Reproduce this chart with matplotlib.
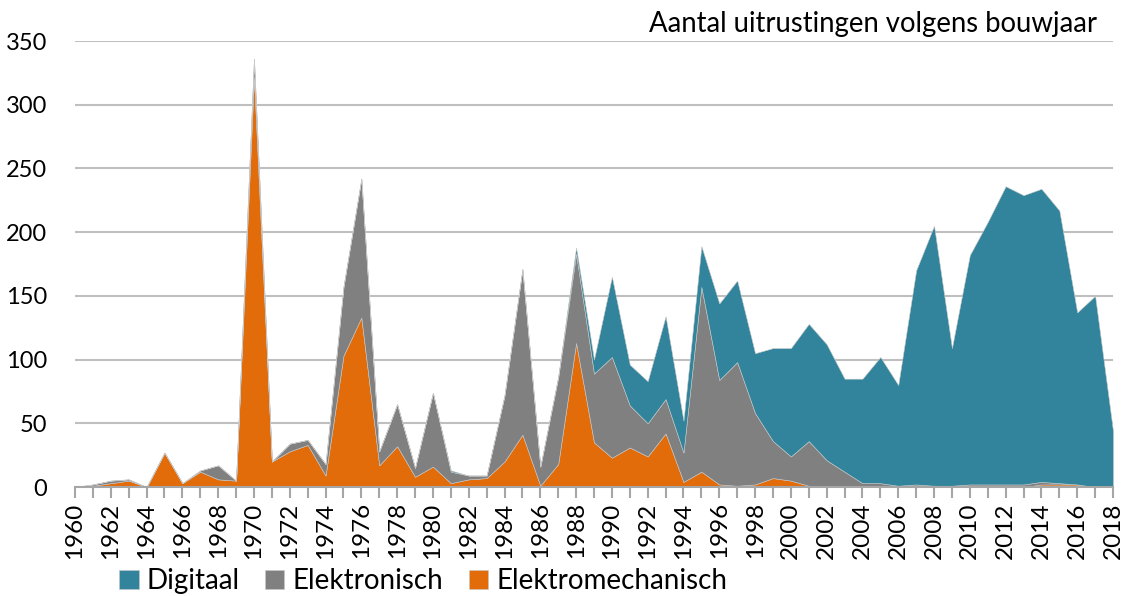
import numpy as np
import matplotlib
matplotlib.use("Agg")
import matplotlib.pyplot as plt

plt.rcParams['font.family'] = ['Lato', 'DejaVu Sans']

years = list(range(1960, 2019))
elektromechanisch = [0, 1, 3, 5, 0, 27, 3, 12, 6, 5,
                     322, 20, 28, 33, 9, 103, 133, 17, 32, 8,
                     16, 3, 6, 7, 20, 41, 1, 18, 113, 35,
                     23, 31, 24, 42, 4, 12, 2, 1, 2, 7,
                     5, 1, 0, 0, 0, 0, 0, 0, 0, 0,
                     0, 0, 0, 0, 2, 2, 2, 0, 0]
elektronisch = [0, 1, 2, 1, 0, 0, 0, 1, 11, 0,
                14, 0, 6, 4, 9, 54, 109, 11, 33, 7,
                58, 9, 3, 2, 52, 130, 15, 68, 70, 54,
                79, 33, 26, 27, 23, 145, 82, 97, 56, 29,
                19, 35, 21, 12, 3, 3, 1, 2, 1, 1,
                2, 2, 2, 2, 2, 1, 0, 0, 0]
digitaal = [0, 0, 0, 0, 0, 0, 0, 0, 0, 0,
            0, 0, 0, 0, 0, 0, 0, 0, 0, 0,
            0, 1, 0, 0, 0, 0, 0, 1, 5, 11,
            63, 32, 33, 65, 25, 32, 60, 64, 47, 73,
            85, 92, 91, 73, 82, 99, 79, 168, 204, 108,
            180, 206, 234, 227, 230, 214, 135, 150, 44]

c_dig = '#31849b'
c_el = '#808080'
c_em = '#e36c0a'

fig = plt.figure(figsize=(11.32, 5.96), dpi=100)
ax = fig.add_axes([75/1132, 1 - 487/596, (1113-75)/1132, (487-41)/596])

polys = ax.stackplot(years, elektromechanisch, elektronisch, digitaal,
                     colors=[c_em, c_el, c_dig], edgecolor='#c8c8c8', linewidth=0.4)

ax.set_xlim(1960, 2018)
ax.set_ylim(0, 350)
ax.set_yticks(range(0, 351, 50))
ax.set_xticks(years, minor=False)
ax.set_xticklabels([str(y) if y % 2 == 0 else '' for y in years], rotation=90)
ax.yaxis.grid(True, color='#bfbfbf', linewidth=1.5)
ax.set_axisbelow(True)
for s in ['top', 'right', 'left']:
    ax.spines[s].set_visible(False)
ax.spines['bottom'].set_color('#a6a6a6')
ax.spines['bottom'].set_linewidth(1.5)
ax.spines['bottom'].set_zorder(5)
ax.tick_params(axis='y', length=0, labelsize=17, pad=20)
ax.tick_params(axis='x', length=8, width=1.5, color='#a6a6a6', labelsize=17.5, pad=3)

fig.text(1097/1132, 1 - 24/596, 'Aantal uitrustingen volgens bouwjaar',
         ha='right', va='center', fontsize=19.8)

handles = [polys[2], polys[1], polys[0]]
fig.legend(handles, ['Digitaal', 'Elektronisch', 'Elektromechanisch'],
           loc='center left', bbox_to_anchor=(108/1132, 1 - 581/596), ncol=3,
           frameon=False, fontsize=20, handlelength=0.7, handleheight=0.7,
           handletextpad=0.3, columnspacing=0.9, borderaxespad=0)

fig.savefig('out.png', dpi=100)
